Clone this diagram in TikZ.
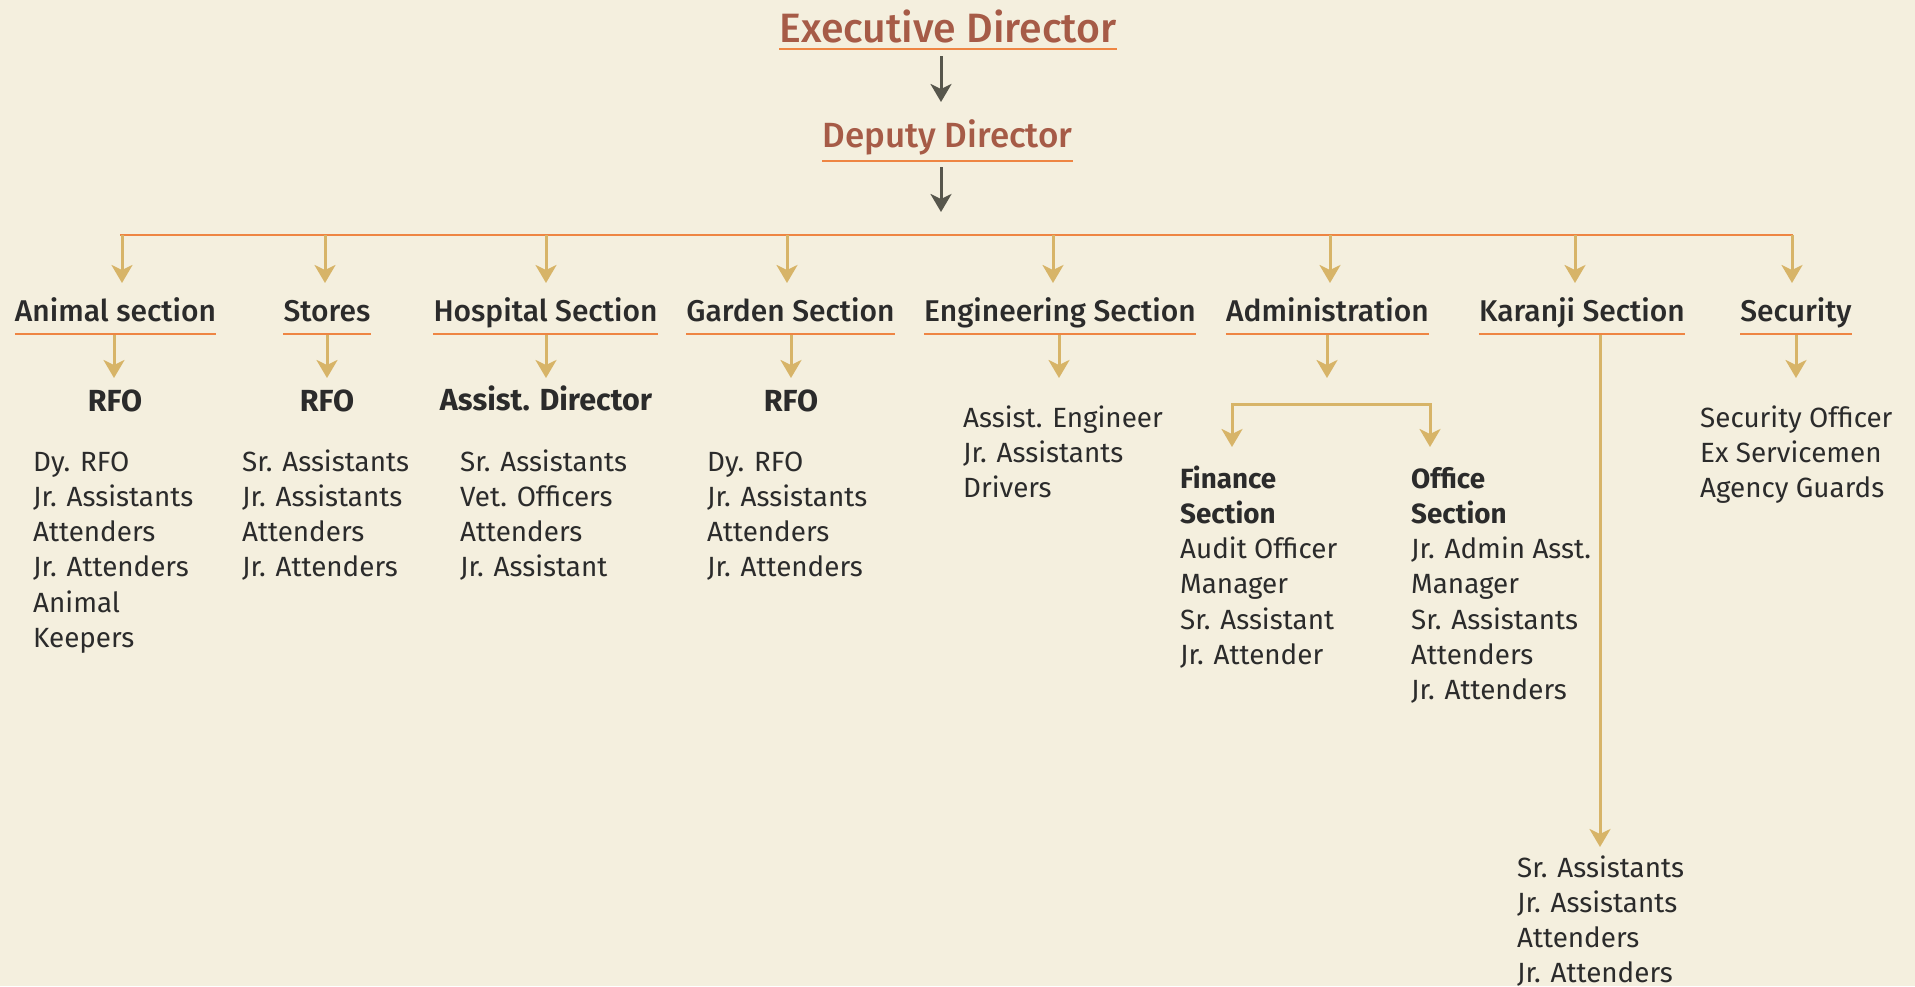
\documentclass[tikz,border=0pt]{standalone}
\usepackage{fontspec}
\setmainfont{Fira Sans}
\newfontfamily\medfont{Fira Sans Medium}
\usetikzlibrary{arrows.meta}

\definecolor{paper}{HTML}{F4EFDE}
\definecolor{brick}{HTML}{A65B47}
\definecolor{rule}{HTML}{EE8543}
\definecolor{gold}{HTML}{D7B468}
\definecolor{slate}{HTML}{57564C}
\definecolor{ink}{HTML}{2B2B2B}

\tikzset{
  headtitle/.style={inner sep=0pt, anchor=base, text=brick, font=\medfont\fontsize{41}{41}\selectfont},
  subtitle/.style={inner sep=0pt, anchor=base, text=brick, font=\medfont\fontsize{35}{35}\selectfont},
  secttitle/.style={inner sep=0pt, anchor=base, text=ink, font=\medfont\fontsize{30}{30}\selectfont},
  unittitle/.style={inner sep=0pt, anchor=base, text=ink, font=\bfseries\fontsize{30.5}{30.5}\selectfont},
  % multi-line lists: the base anchor sits on the last line
  staff/.style={inner sep=0pt, anchor=base west, align=left, text=ink, font=\fontsize{27.8}{35.3}\selectfont},
  uline/.style={draw=rule, line width=2.7pt},
  goldtip/.tip={Stealth[length=18pt, width=21pt, inset=5pt]},
  goldarrow/.style={draw=gold, line width=3pt, -goldtip},
  slatearrow/.style={draw=slate, line width=3pt, -goldtip},
}

\begin{document}
\begin{tikzpicture}[x=1pt, y=-1pt]
\fill[paper] (0,0) rectangle (1915,986);
\useasboundingbox (0,0) rectangle (1915,986);

% top of the hierarchy
\node[headtitle] (exec) at (948,42) {Executive Director};
\draw[uline] ([yshift=-7pt]exec.base west) -- ([yshift=-7pt]exec.base east);
\node[subtitle] (dep) at (947.5,147) {Deputy Director};
\draw[uline] ([yshift=-14pt]dep.base west) -- ([yshift=-14pt]dep.base east);
\draw[slatearrow] ([xshift=-7pt,yshift=-14pt]exec.base) -- ([xshift=-6.5pt,yshift=45pt]dep.base);

% distribution bar
\coordinate (barL) at (120,235);
\coordinate (barR) at (1793,235);
\coordinate (barC) at (941,235);
\draw[slatearrow] ([xshift=-6.5pt,yshift=-20pt]dep.base) -- ([yshift=23pt]barC);
\draw[uline] (barL) -- (barR);

% sections
\node[secttitle] (anim) at (115.5,321) {Animal section};
\node[secttitle] (stor) at (327,321) {Stores};
\node[secttitle] (hosp) at (545.5,321) {Hospital Section};
\node[secttitle] (gard) at (790.5,321) {Garden Section};
\node[secttitle] (engg) at (1060,321) {Engineering Section};
\node[secttitle] (admn) at (1327.5,321) {Administration};
\node[secttitle] (karj) at (1582,321) {Karanji Section};
\node[secttitle] (secu) at (1796,321) {Security};

\foreach \n in {anim,stor,hosp,gard,engg,admn,karj,secu}
  \draw[uline] ([yshift=-13pt]\n.base west) -- ([yshift=-13pt]\n.base east);

\foreach \x/\n in {122/anim,325/stor,546/hosp,787/gard,1053/engg,1330/admn,1575/karj,1792/secu}
  \draw[goldarrow] (barL -| \x,0) -- ([yshift=38pt]\n.base -| \x,0);

% second level heads
\node[unittitle] (rfoA) at (115,411) {RFO};
\node[unittitle] (rfoS) at (327,411) {RFO};
\node[unittitle] (asdr) at (546,410) {Assist. Director};
\node[unittitle] (rfoG) at (791,411) {RFO};

\draw[goldarrow] ([yshift=-14pt]anim.base -| 114,0) -- ([yshift=33pt]rfoA.base -| 114,0);
\draw[goldarrow] ([yshift=-14pt]stor.base) -- ([yshift=33pt]rfoS.base);
\draw[goldarrow] ([yshift=-14pt]hosp.base -| 546,0) -- ([yshift=32pt]asdr.base);
\draw[goldarrow] ([yshift=-14pt]gard.base -| 791,0) -- ([yshift=33pt]rfoG.base);

% staff lists (positioned by their last line)
\node[staff] (lstA) at (33,647.5) {Dy. RFO\\Jr. Assistants\\Attenders\\Jr. Attenders\\Animal\\Keepers};
\node[staff] (lstS) at (242,576.9) {Sr. Assistants\\Jr. Assistants\\Attenders\\Jr. Attenders};
\node[staff] (lstH) at (460,576.9) {Sr. Assistants\\Vet. Officers\\Attenders\\Jr. Assistant};
\node[staff] (lstG) at (707,576.9) {Dy. RFO\\Jr. Assistants\\Attenders\\Jr. Attenders};
\node[staff] (lstE) at (963,497.6) {Assist. Engineer\\Jr. Assistants\\Drivers};
\node[staff] (lstY) at (1700,497.6) {Security Officer\\Ex Servicemen\\Agency Guards};
\node[staff] (fin) at (1180,664.5) {\textbf{Finance}\\\textbf{Section}\\Audit Officer\\Manager\\Sr. Assistant\\Jr. Attender};
\node[staff] (off) at (1411,699.8) {\textbf{Office}\\\textbf{Section}\\Jr. Admin Asst.\\Manager\\Sr. Assistants\\Attenders\\Jr. Attenders};
\node[staff] (lstK) at (1517,982.9) {Sr. Assistants\\Jr. Assistants\\Attenders\\Jr. Attenders};

\draw[goldarrow] ([yshift=-14pt]engg.base -| 1059,0) -- (1059,378);
\draw[goldarrow] ([yshift=-14pt]secu.base) -- ++(0,43);

% administration split
\draw[goldarrow] ([yshift=-14pt]admn.base -| 1327,0) -- ++(0,43);
\coordinate (splitL) at (1232,404);
\coordinate (splitR) at (1430,404);
\draw[goldarrow, goldtip-goldtip] (splitL |- 0,447) -- (splitL) -- (splitR) -- (splitR |- 0,447);

% Karanji long drop
\draw[goldarrow] ([yshift=-14pt]karj.base -| 1600,0) -- (1600,847);
\end{tikzpicture}
\end{document}
